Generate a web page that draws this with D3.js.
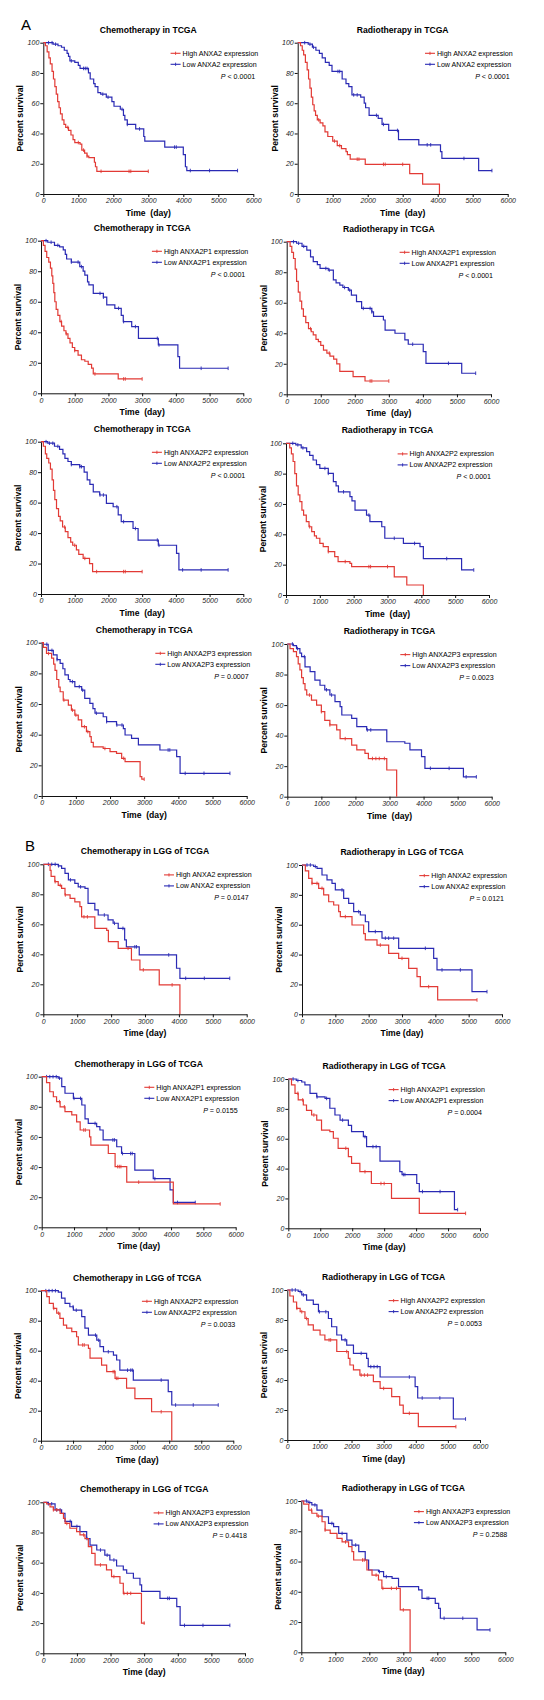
<!DOCTYPE html>
<html><head><meta charset="utf-8">
<script src="https://cdn.jsdelivr.net/npm/d3@7"></script>
<style>
body{margin:0;background:#fff}
svg{display:block}
text{font-family:"Liberation Sans",Arial,sans-serif}
</style>
</head><body>
<svg id="chart" width="544" height="1700"></svg>
<script>
// ---------- DATA ----------
const genes = ["ANXA2", "ANXA2P1", "ANXA2P2", "ANXA2P3"];
const titlesA = ["Chemotherapy in TCGA", "Radiotherapy in TCGA"];
const titlesB = ["Chemotherapy in LGG of TCGA", "Radiotherapy in LGG of TCGA"];
const pA_chemo = ["< 0.0001", "< 0.0001", "< 0.0001", "= 0.0007"];
const pA_radio = ["< 0.0001", "< 0.0001", "< 0.0001", "= 0.0023"];
const pB_chemo = ["= 0.0147", "= 0.0155", "= 0.0033", "= 0.4418"];
const pB_radio = ["= 0.0121", "= 0.0004", "= 0.0053", "= 0.2588"];
const xTicks = [0, 1000, 2000, 3000, 4000, 5000, 6000];
const yTicks = [0, 20, 40, 60, 80, 100];

// step curves: [time (day), percent survival from that time on]
const A1CH = [[0,100],[60,98],[110,94],[160,90],[200,86],[250,81],[290,76],[330,71],[370,66],[410,61],[450,57],[490,53],[540,49],[590,46],[640,44],[720,42],[790,39],[850,36],[900,34],[1050,33],[1100,29],[1180,27],[1250,25],[1300,24],[1460,21],[1490,18],[1530,15],[3000,15]];
const A1CH_c = [700,1000,1150,1250,1650,2450,2500,3000];
const A1CL = [[0,100],[280,99],[420,98],[520,97],[600,95],[680,93],[720,91],[760,88],[900,87],[1000,85],[1050,83],[1290,80],[1340,76],[1440,73],[1480,71],[1560,67],[1640,66],[1800,64],[1960,61],[2020,58],[2200,56],[2290,52],[2330,49],[2400,46],[2640,43],[2870,38],[2900,35],[3470,31],[4000,26],[4060,18],[4100,15.5],[5550,15.5]];
const A1CL_c = [150,250,350,800,1150,1200,1250,1700,1850,2250,2400,2750,3750,3800,4200,4750,5550];
const A1RH = [[0,100],[80,98],[130,95],[170,92],[220,87],[270,82],[310,76],[350,70],[390,64],[430,59],[470,55],[510,52],[560,49],[640,47],[720,45],[780,41],[860,38],[1000,35],[1130,32],[1250,30],[1380,28],[1420,26],[1500,23],[1930,19.6],[3200,13.5],[3570,6.5],[4050,0]];
const A1RH_c = [600,1050,1200,1700,1750,2450,2500,3000];
const A1RL = [[0,100],[300,99],[420,97],[520,95],[620,93],[700,90],[790,87],[900,85],[980,81],[1270,76],[1380,73],[1460,71],[1550,65.5],[1800,64],[1900,60],[1940,57],[2040,52],[2300,50],[2410,46],[2600,42],[2880,36],[3460,32.5],[4080,28],[4120,23.5],[5170,15.5],[5550,15.5]];
const A1RL_c = [200,350,450,1150,1200,1600,1700,2250,2450,2850,3700,3800,4750,5550];

const A2CH = [[0,100],[70,97],[120,93],[170,89],[230,86],[280,82],[320,77],[350,72],[380,66],[410,60],[450,55],[500,51],[560,47],[610,44],[680,41],[740,39],[800,36],[860,33],[930,30],[1000,28],[1100,25],[1200,22],[1300,21],[1400,19],[1500,16.5],[1550,12.7],[2290,9.4],[3000,9.4]];
const A2CH_c = [600,750,1000,1600,2450,2500,3000];
const A2CL = [[0,100],[200,99],[400,97],[550,96],[660,94],[720,91],[760,88],[900,86],[1150,83],[1250,80],[1300,77.5],[1380,73],[1420,71],[1550,65.5],[1850,63],[1950,58],[2190,55.7],[2380,51],[2440,47],[2690,43.7],[2890,36],[3480,31.7],[4060,24],[4110,16.4],[5550,16.4]];
const A2CL_c = [150,300,500,900,1100,1200,1750,1850,2300,2450,2800,3450,3500,4750,5550];
const A2RH = [[0,100],[100,97],[150,93],[200,89],[250,82],[290,74],[340,67],[390,61],[440,56],[490,51],[560,47],[640,43],[720,41],[780,39],[860,36],[930,34.5],[1000,32],[1080,29],[1180,27],[1270,25],[1380,23],[1470,20],[1560,15],[1950,11.6],[2300,8.7],[3000,8.7]];
const A2RH_c = [700,1250,2450,2500,3000];
const A2RL = [[0,100],[290,99],[450,97],[590,94.5],[700,90],[780,87],[900,85],[980,82.5],[1220,81.4],[1370,75],[1450,73],[1560,71.6],[1650,70],[1810,68.3],[1900,65],[2050,60.7],[2200,56.3],[2500,54],[2550,51],[2840,48.7],[2890,42],[3180,40],[3470,35.6],[3570,32.8],[4010,28],[4090,20.3],[5140,13.8],[5550,13.8]];
const A2RL_c = [200,350,500,1150,1250,1700,1850,2250,2450,2500,3700,4750,5550];

const A3CH = [[0,100],[70,97],[130,92],[170,89],[230,86],[280,82],[330,75],[370,68],[410,62],[460,56],[520,51],[570,48],[640,44],[720,41],[800,37],[880,34],[940,32],[1050,29],[1120,26],[1250,23.4],[1440,20],[1530,14.7],[3000,14.7]];
const A3CH_c = [700,1000,1300,1650,2450,2500,3000];
const A3CL = [[0,100],[200,99],[400,97],[550,95],[650,92],[710,89],[800,87],[900,85],[1150,83.6],[1280,80],[1370,75],[1450,72],[1550,67],[1740,65],[1940,59.5],[2140,57.3],[2290,52],[2380,47.5],[2730,43],[2880,35.4],[3480,32],[4020,26.7],[4090,15.8],[5550,15.8]];
const A3CL_c = [150,250,350,500,900,1150,1200,1750,1850,2250,2450,2800,3450,3500,4200,4750,5550];
const A3RH = [[0,100],[110,97],[160,93],[210,88],[260,80],[310,72],[360,66],[410,61.5],[470,56],[520,52.7],[600,48.4],[680,45],[760,41.8],[840,39],[900,37.4],[1000,34],[1100,31.9],[1250,28.6],[1440,25.3],[1540,22],[1890,20.9],[1940,18.7],[3200,12],[3570,6.6],[4060,0]];
const A3RH_c = [700,1250,1750,2450,2500,3000];
const A3RL = [[0,100],[290,99],[450,97],[610,94.5],[700,92],[800,89],[900,86],[1000,83.5],[1250,80.2],[1400,74.7],[1480,72],[1550,68],[1890,64.8],[1950,62],[2040,56],[2380,52.7],[2480,48.4],[2830,45],[2920,37.4],[3470,34],[3960,31.9],[4060,24],[5190,16.5],[5550,16.5]];
const A3RL_c = [200,350,500,1150,1250,1700,2450,3200,3800,4750,5550];

const A4CH = [[0,100],[50,97],[140,93],[290,90],[350,86],[390,82],[440,76],[500,71],[540,68],[630,62.6],[780,59.3],[870,56],[970,52.8],[1070,49.6],[1170,45.2],[1310,42],[1410,38.7],[1450,35],[1510,32],[1800,31],[2000,29],[2190,27.8],[2340,24.6],[2440,22.4],[2880,12.6],[2930,11],[3000,11]];
const A4CH_c = [200,650,900,1000,1250,1350,1850,2400,3000];
const A4CL = [[0,100],[50,99],[190,95],[340,92],[450,89],[540,86.5],[620,83],[680,79],[780,76],[830,74.6],[970,71.3],[1170,69],[1260,63.7],[1410,60.4],[1500,57],[1560,54],[1800,51.7],[1900,48.5],[2190,46.3],[2390,44],[2440,39.8],[2630,37.6],[2830,33.3],[3460,30],[3950,25.7],[4050,14.8],[5510,14.8]];
const A4CL_c = [150,300,450,900,1100,1200,1600,1900,2200,2350,3700,3750,4200,4750,5510];
const A4RH = [[0,100],[80,97],[180,95],[270,91.7],[320,87],[370,83],[420,78],[470,74],[520,70],[570,66.6],[710,63.3],[860,60],[1000,55.7],[1100,50],[1250,47],[1450,43.7],[1550,38],[1890,33.8],[2040,30.6],[2280,28.4],[2380,25],[2920,17.5],[3210,0]];
const A4RH_c = [650,1000,1250,1700,2500,2600,2700,2850];
const A4RL = [[0,100],[180,99],[270,97],[370,94],[420,91.7],[520,85],[670,81.9],[810,76.4],[960,73],[1100,70],[1250,66.6],[1400,62.2],[1550,59],[1600,53.5],[1890,51.3],[2040,45.9],[2330,43.7],[2920,36],[3450,35],[3600,30.6],[3940,26.2],[4040,18.6],[5170,13],[5550,13]];
const A4RL_c = [150,300,500,1150,1300,2350,2450,4200,4750,5250,5550];

const B1CH = [[0,100],[200,96],[230,92],[340,88.4],[440,86],[540,84],[640,79.6],[790,77.3],[930,75],[1080,71.8],[1130,65],[1520,57.3],[1870,56],[1920,48.4],[2210,44],[2600,36.2],[2850,29.6],[3420,19.6],[4030,0]];
const B1CH_c = [350,500,650,1200,1300,2500,2950,3800];
const B1CL = [[0,100],[440,99],[540,97.3],[640,94],[740,89.6],[930,87.3],[1030,85],[1230,84],[1320,74],[1520,69.6],[1620,66.2],[1910,63],[2060,60.7],[2210,57.3],[2400,49.6],[2450,45],[2830,39.6],[3930,30.7],[4030,24],[5500,24]];
const B1CL_c = [150,250,350,450,800,1100,1800,2100,2350,2700,2750,3700,4200,4750,5500];
const B1RH = [[0,100],[100,96],[200,91],[300,87.7],[500,84.4],[650,80],[800,75.4],[950,73.2],[1100,68.75],[1150,65.4],[1500,59.8],[1850,54],[1900,49.8],[2250,46.4],[2600,40.8],[2900,37.5],[3200,30.8],[3450,25.2],[3550,18.5],[4070,9.6],[5250,9.6]];
const B1RH_c = [300,450,600,1300,2350,3000,3800,5250];
const B1RL = [[0,100],[350,99],[450,97.8],[600,93.3],[750,90],[900,87.7],[1000,83.3],[1250,77.7],[1400,74.3],[1550,68.75],[1750,66.5],[1900,62],[2000,55.4],[2400,51],[2900,44.2],[3950,37.5],[4050,29.7],[5100,15.2],[5550,15.2]];
const B1RL_c = [150,250,400,1200,1700,2200,2500,2600,2750,3700,4200,4750,5550];

const B2CH = [[0,100],[150,96],[250,90],[360,86.7],[460,83.4],[570,80],[720,76.8],[930,74.6],[1080,70],[1190,64.6],[1480,60],[1520,54.6],[2060,49],[2270,40.3],[2630,30],[4070,15.5],[5520,15.5]];
const B2CH_c = [550,700,1300,1350,2350,2400,2450,3000,5520];
const B2CL = [[0,100],[510,99],[620,93.4],[720,89],[980,85.6],[1240,81.2],[1340,72],[1440,69],[1700,66.8],[1800,64.6],[1900,58],[2320,53.5],[2470,49],[2880,38],[3450,32.3],[3970,24.8],[4070,16.5],[4750,16.5]];
const B2CL_c = [150,250,350,450,550,1000,1200,1650,2200,2250,2500,2750,2800,3500,4200,4750];
const B2RH = [[0,100],[100,96],[210,90.4],[310,86],[470,82.6],[570,79],[730,75.9],[890,72.5],[1040,65.8],[1300,64.7],[1410,60.3],[1560,53.6],[1880,48],[1980,43.5],[2240,37.9],[2600,30],[3230,20],[4100,10],[5550,10]];
const B2RH_c = [300,450,800,1800,2400,2900,3000,5550];
const B2RL = [[0,100],[250,99],[420,98],[520,96],[680,90.4],[890,88],[1150,87],[1300,80.4],[1460,75.9],[1620,72.5],[1880,69],[1980,64.7],[2350,61.4],[2450,54.7],[2870,45],[3490,38],[3560,36],[4020,30],[4100,24.6],[5200,12.5],[5300,12.5]];
const B2RL_c = [150,300,900,1200,1700,2400,2650,2750,3600,3650,4200,4750,5300];

const B3CH = [[0,100],[180,96],[260,91.6],[385,88.2],[490,85],[590,81.6],[700,77],[800,75],[960,72.7],[1110,69.3],[1165,63.8],[1480,61.6],[1530,55],[1890,50.4],[2050,46],[2310,41.6],[2670,35],[2930,28],[3450,19.3],[4080,0]];
const B3CH_c = [400,550,1300,1350,2250,2300,2350,2400,3750];
const B3CL = [[0,100],[540,99],[640,95],[750,91.6],[900,89.3],[1010,87],[1270,82.7],[1370,75],[1480,70.4],[1740,67],[1840,62.7],[1950,59.3],[2260,57],[2360,53.8],[2460,47],[2880,40.4],[3970,32.7],[4080,23.8],[5530,23.8]];
const B3CL_c = [150,250,350,450,1000,1100,1700,1800,2100,2700,2800,2850,3750,4200,4750,5530];
const B3RH = [[0,100],[80,96],[190,92],[290,87.8],[400,85.5],[550,81],[650,76.7],[810,73.3],[1020,70],[1170,66.7],[1540,59],[1900,54.4],[1950,50],[2060,46.7],[2260,43.3],[2680,38.9],[2890,34.4],[3250,28.9],[3500,23.3],[3610,17.8],[4080,8.9],[5250,8.9]];
const B3RH_c = [300,450,600,1300,1350,1850,2300,2400,2500,3000,3800,5250];
const B3RL = [[0,100],[340,99],[450,96.7],[600,93.3],[810,90.4],[970,85.5],[1280,81],[1380,75.5],[1540,70],[1690,66.7],[1850,63.3],[2060,57.8],[2470,54.4],[2520,48.9],[2890,42],[3980,35.6],[4060,28],[5170,14],[5550,14]];
const B3RL_c = [150,250,400,500,1000,1200,1800,2300,2600,2700,2800,3800,4200,4750,5550];

const B4CH = [[0,100],[100,99],[200,97],[300,95],[500,92.7],[600,89.4],[650,86],[790,82.8],[990,80.6],[1090,78.4],[1240,76],[1340,70.6],[1440,66.2],[1540,58.5],[1880,55.2],[2030,50.8],[2280,46.4],[2380,39.7],[2920,20],[3020,20]];
const B4CH_c = [300,400,700,1200,1700,2100,2400,2500,2600,3000];
const B4CL = [[0,100],[150,99],[350,95],[545,92.7],[645,87.4],[840,84],[1090,80.6],[1290,76],[1390,71.7],[1590,68.4],[1830,65],[1980,61.8],[2180,57.8],[2380,55.2],[2480,53],[2680,49.7],[2875,45.3],[2925,41],[3470,36.4],[3970,30.9],[4070,18.5],[5550,18.5]];
const B4CL_c = [150,250,400,500,800,1000,1300,1700,1900,2100,3700,3750,4200,4750,5550];
const B4RH = [[0,100],[70,98],[220,94],[310,91.9],[460,90],[610,86.3],[700,80.8],[850,78.6],[1050,75.3],[1200,73],[1390,69.8],[1490,66.5],[1540,61],[1930,54.4],[2080,51],[2270,47.8],[2370,42.3],[2910,28],[3200,0]];
const B4RH_c = [300,500,700,1300,1800,1850,2200,2400,2650,2800,3000];
const B4RL = [[0,100],[200,99],[310,97.4],[460,94],[610,89.6],[800,85.2],[950,83],[1100,78.6],[1340,74.2],[1490,70.9],[1690,66.5],[1880,61],[1980,54.4],[2270,53.3],[2420,50],[2670,48.9],[2860,43.4],[3450,41.2],[3550,35.7],[3940,32.4],[4040,29],[4090,22.5],[5170,14.8],[5550,14.8]];
const B4RL_c = [150,250,400,900,1200,1600,2300,2500,3700,3750,4200,4750,5550];

// ---------- LAYOUT (pixel boxes: x-left, x-right, y-top(100%), y-bottom(0%)) ----------
const boxes = [
  [43.3,253.3,42.7,194],[297.7,507.7,42.7,194],
  [41,243.3,240.7,393.3],[286.7,491,241.7,394.3],
  [41,243.3,441.7,594],[286,489,443.3,595],
  [41.7,246.7,642.7,796],[287.3,491.7,644,796.7],
  [43.3,246.7,864.3,1014.3],[302,502,865,1014.3],
  [41.7,235.7,1076.7,1227.3],[288.3,480,1079,1228.3],
  [41,233.3,1290.7,1440.7],[287.3,480,1290,1440],
  [43.3,245,1502.3,1653.3],[301.3,505.3,1501,1652.3]
];

const curves = [
  [A1CH,A1CH_c,A1CL,A1CL_c],[A1RH,A1RH_c,A1RL,A1RL_c],
  [A2CH,A2CH_c,A2CL,A2CL_c],[A2RH,A2RH_c,A2RL,A2RL_c],
  [A3CH,A3CH_c,A3CL,A3CL_c],[A3RH,A3RH_c,A3RL,A3RL_c],
  [A4CH,A4CH_c,A4CL,A4CL_c],[A4RH,A4RH_c,A4RL,A4RL_c],
  [B1CH,B1CH_c,B1CL,B1CL_c],[B1RH,B1RH_c,B1RL,B1RL_c],
  [B2CH,B2CH_c,B2CL,B2CL_c],[B2RH,B2RH_c,B2RL,B2RL_c],
  [B3CH,B3CH_c,B3CL,B3CL_c],[B3RH,B3RH_c,B3RL,B3RL_c],
  [B4CH,B4CH_c,B4CL,B4CL_c],[B4RH,B4RH_c,B4RL,B4RL_c]
];

const panels = curves.map((c, i) => {
  const row = Math.floor(i / 2), col = i % 2, isB = row >= 4, gi = row % 4;
  return {
    box: boxes[i],
    title: (isB ? titlesB : titlesA)[col],
    gene: genes[gi],
    p: isB ? (col ? pB_radio : pB_chemo)[gi] : (col ? pA_radio : pA_chemo)[gi],
    xlabel: isB ? "Time (day)" : "Time  (day)",
    high: c[0], highC: c[1], low: c[2], lowC: c[3]
  };
});

// ---------- DRAW ----------
const RED = "#e23a35", BLUE = "#2a2ab4";
const svg = d3.select("#chart");

function survAt(steps, t) {
  let s = steps[0][1];
  for (const d of steps) { if (d[0] <= t) s = d[1]; else break; }
  return s;
}

panels.forEach(p => {
  const [x0, x1, yT, yB] = p.box;
  const x = d3.scaleLinear().domain([0, 6000]).range([x0, x1]);
  const y = d3.scaleLinear().domain([0, 100]).range([yB, yT]);
  const g = svg.append("g");

  // title
  g.append("text").attr("x", (x0 + x1) / 2).attr("y", yT - 10)
    .attr("text-anchor", "middle").attr("font-size", 8.6).attr("font-weight", "bold")
    .text(p.title);

  // axes
  const xa = g.append("g").attr("transform", `translate(0,${yB})`)
    .call(d3.axisBottom(x).tickValues(xTicks).tickSize(3).tickSizeOuter(0).tickPadding(1.5).tickFormat(d3.format("d")));
  const ya = g.append("g").attr("transform", `translate(${x0},0)`)
    .call(d3.axisLeft(y).tickValues(yTicks).tickSize(3).tickSizeOuter(0).tickPadding(1).tickFormat(d3.format("d")));
  [xa, ya].forEach(a => {
    a.selectAll("path,line").attr("stroke", "#111").attr("stroke-width", 1);
    a.selectAll("text").attr("font-size", 7).attr("font-style", "italic")
      .attr("fill", "#222").attr("font-family", '"Liberation Sans",Arial,sans-serif');
  });

  // axis titles
  g.append("text").attr("transform", `translate(${x0 - 20},${(yT + yB) / 2}) rotate(-90)`)
    .attr("text-anchor", "middle").attr("font-size", 8.6).attr("font-weight", "bold")
    .text("Percent survival");
  g.append("text").attr("x", (x0 + x1) / 2).attr("y", yB + 22)
    .attr("text-anchor", "middle").attr("font-size", 8.6).attr("font-weight", "bold")
    .style("white-space", "pre").text(p.xlabel);

  // curves
  const line = d3.line().x(d => x(d[0])).y(d => y(d[1])).curve(d3.curveStepAfter);
  [[p.low, p.lowC, BLUE], [p.high, p.highC, RED]].forEach(([steps, cens, col]) => {
    g.append("path").datum(steps).attr("d", line)
      .attr("fill", "none").attr("stroke", col).attr("stroke-width", 1.2);
    g.selectAll(null).data(cens).enter().append("line")
      .attr("x1", d => x(d)).attr("x2", d => x(d))
      .attr("y1", d => y(survAt(steps, d)) - 1.8).attr("y2", d => y(survAt(steps, d)) + 1.8)
      .attr("stroke", col).attr("stroke-width", 0.9);
  });

  // legend
  const lg = g.append("g");
  const ty1 = yT + 13, ty2 = yT + 24;
  const tHigh = lg.append("text").attr("x", 0).attr("y", ty1).attr("font-size", 7.1)
    .text(`High ${p.gene} expression`);
  const len = tHigh.node().getComputedTextLength();
  const tx = x1 + 5 - len;
  tHigh.attr("x", tx);
  lg.append("text").attr("x", tx).attr("y", ty2).attr("font-size", 7.1)
    .text(`Low ${p.gene} expression`);
  [[ty1 - 2.4, RED], [ty2 - 2.4, BLUE]].forEach(([yy, col]) => {
    lg.append("line").attr("x1", tx - 12).attr("x2", tx - 2).attr("y1", yy).attr("y2", yy)
      .attr("stroke", col).attr("stroke-width", 1.1);
    lg.append("line").attr("x1", tx - 7).attr("x2", tx - 7).attr("y1", yy - 1.6).attr("y2", yy + 1.6)
      .attr("stroke", col).attr("stroke-width", 0.9);
  });
  const pt = lg.append("text").attr("x", x1 + 2).attr("y", yT + 36).attr("font-size", 7.1)
    .attr("text-anchor", "end");
  pt.append("tspan").attr("font-style", "italic").text("P");
  pt.append("tspan").text(" " + p.p);
});

// panel letters
svg.append("text").attr("x", 21).attr("y", 30).attr("font-size", 15).text("A");
svg.append("text").attr("x", 25).attr("y", 851).attr("font-size", 15).text("B");
</script>
</body></html>
